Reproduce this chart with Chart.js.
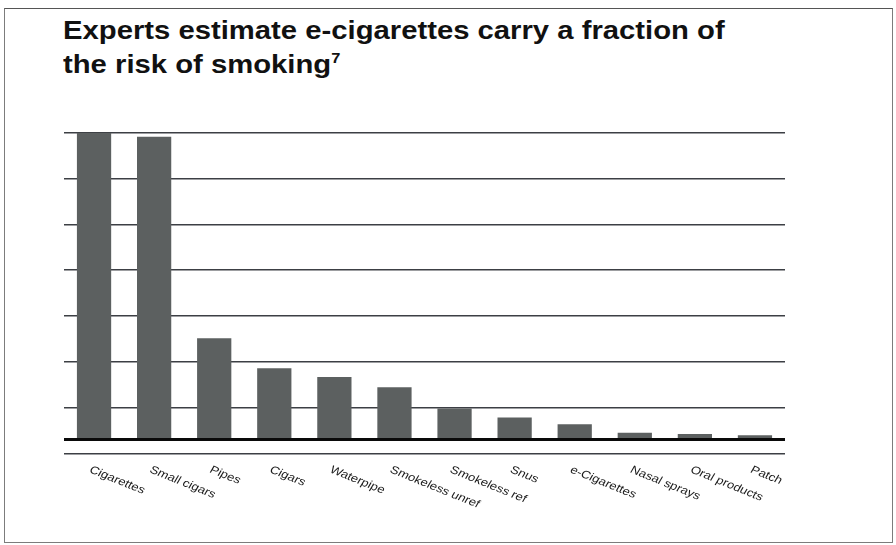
<!DOCTYPE html>
<html>
<head>
<meta charset="utf-8">
<script src="https://cdn.jsdelivr.net/npm/chart.js@4"></script>
<style>
  html, body { margin: 0; padding: 0; background: #ffffff; }
  #page { position: relative; width: 896px; height: 545px; overflow: hidden; background: #ffffff; }
  #frame {
    position: absolute; left: 4px; top: 8px; width: 887px; height: 533px;
    border: 1.5px solid #7c7c7c; border-top-color: #555;
  }
  #title {
    position: absolute; left: 63px; top: 14px;
    font-family: "Liberation Sans", Arial, sans-serif; font-weight: bold;
    font-size: 25px; line-height: 33.5px; color: #111111;
    transform: scaleX(1.17); transform-origin: 0 0; white-space: nowrap;
  }
  #title sup { font-size: 14px; line-height: 0; vertical-align: 0; position: relative; top: -10px; }
  #chartBox { position: absolute; left: 0; top: 0; width: 896px; height: 545px; }
</style>
</head>
<body>
<div id="page">
  <div id="frame"></div>
  <div id="title">Experts estimate e-cigarettes carry a fraction of<br>the risk of smoking<sup>7</sup></div>
  <div id="chartBox"><canvas id="chart" width="896" height="545"></canvas></div>
</div>
<script>
// Relative harm of nicotine products (cigarettes = 100)
const categories = ["Cigarettes", "Small cigars", "Pipes", "Cigars", "Waterpipe", "Smokeless unref",
                    "Smokeless ref", "Snus", "e-Cigarettes", "Nasal sprays", "Oral products", "Patch"];
const harmScores = [100, 98.7, 33.0, 23.2, 20.4, 17.0, 10.1, 7.2, 5.0, 2.2, 1.8, 1.4];
// Horizontal rule values on the value axis (0 is the heavy base line)
const gridValues = [-4.5, 0, 10.4, 25.3, 40.3, 55.2, 70.1, 85.1, 100];

// Category names under the bars, slanted downward to the right
const slantedLabels = {
  id: "slantedLabels",
  afterDraw(chart) {
    const ctx = chart.ctx;
    const xs = chart.scales.x;
    const top = chart.chartArea.bottom + 11;
    ctx.save();
    ctx.fillStyle = "#1a1a1a";
    ctx.font = "11px 'Liberation Sans', Arial, sans-serif";
    ctx.textAlign = "left";
    ctx.textBaseline = "top";
    categories.forEach((name, i) => {
      const x = xs.getPixelForValue(i);
      ctx.save();
      ctx.translate(x - 1, top);
      ctx.scale(1.2, 1);
      ctx.rotate(26 * Math.PI / 180);
      ctx.fillText(name, 0, 0);
      ctx.restore();
    });
    ctx.restore();
  }
};

new Chart(document.getElementById("chart"), {
  type: "bar",
  data: {
    labels: categories,
    datasets: [{
      data: harmScores,
      backgroundColor: "#5c6060",
      borderWidth: 0,
      barPercentage: 0.57,
      categoryPercentage: 1.0
    }]
  },
  options: {
    responsive: false,
    animation: false,
    devicePixelRatio: 1,
    layout: { padding: { left: 64, right: 111, top: 132.7, bottom: 91.7 } },
    plugins: { legend: { display: false }, tooltip: { enabled: false }, title: { display: false } },
    scales: {
      x: { display: false },
      y: {
        min: -4.5,
        max: 100,
        afterBuildTicks: (scale) => { scale.ticks = gridValues.map(v => ({ value: v })); },
        ticks: { display: false },
        border: { display: false },
        grid: {
          drawTicks: false,
          color: (c) => c.tick && c.tick.value === 0 ? "#0a0a0a" : "#3c3f44",
          lineWidth: (c) => c.tick && c.tick.value === 0 ? 3 : 1.6
        }
      }
    }
  },
  plugins: [slantedLabels]
});
</script>
</body>
</html>
